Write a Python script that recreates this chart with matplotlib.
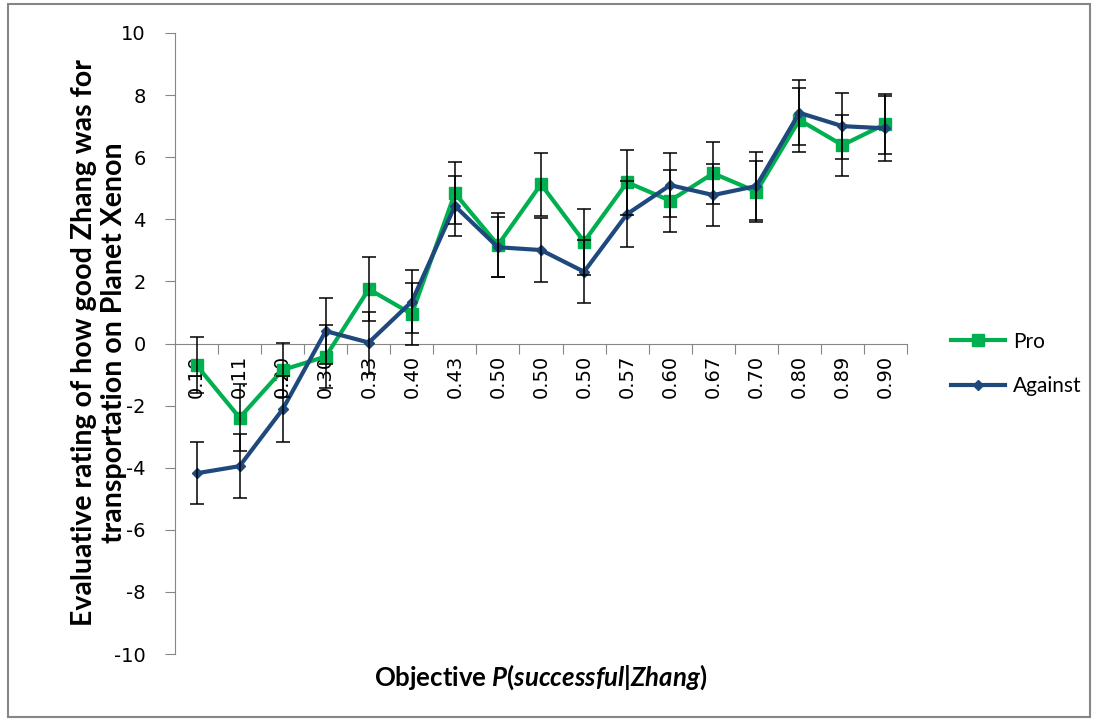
import matplotlib
matplotlib.use("Agg")
import matplotlib.pyplot as plt
from matplotlib.patches import Rectangle

# objective P(successful | Zhang) for each scenario
categories = ["0.10", "0.11", "0.20", "0.30", "0.33", "0.40", "0.43", "0.50", "0.50",
              "0.50", "0.57", "0.60", "0.67", "0.70", "0.80", "0.89", "0.90"]

pro = [-0.70, -2.39, -0.85, -0.42, 1.75, 0.95, 4.84, 3.17, 5.13,
       3.28, 5.19, 4.60, 5.48, 4.89, 7.20, 6.39, 7.07]
pro_err = [0.90, 1.08, 0.88, 1.02, 1.02, 1.00, 1.00, 1.03, 1.02,
           1.06, 1.04, 1.00, 1.00, 0.98, 1.02, 0.98, 0.96]

against = [-4.18, -3.95, -2.12, 0.40, 0.03, 1.35, 4.43, 3.10, 3.01,
           2.31, 4.17, 5.10, 4.78, 5.07, 7.43, 7.00, 6.93]
against_err = [1.00, 1.02, 1.06, 1.05, 1.00, 1.02, 0.98, 0.96, 1.03,
               1.02, 1.05, 1.02, 1.00, 1.10, 1.05, 1.06, 1.05]

GREEN = "#00B050"
BLUE = "#1F497D"
GRAY = "#868686"

plt.rcParams["axes.unicode_minus"] = False
plt.rcParams["mathtext.fontset"] = "custom"
plt.rcParams["mathtext.rm"] = "Lato:bold"
plt.rcParams["mathtext.it"] = "Lato:bold:italic"
plt.rcParams["mathtext.bf"] = "Lato:bold"

fig = plt.figure(figsize=(10.99, 7.2), dpi=100)
ax = fig.add_axes([175 / 1099, 1 - 654 / 720, (907 - 175) / 1099, (654 - 33) / 720])

x = list(range(len(categories)))

ax.plot(x, pro, color=GREEN, lw=3, marker="s", ms=9, label="Pro", zorder=3)
ax.plot(x, against, color=BLUE, lw=3, marker="D", ms=5.5, label="Against", zorder=4)
ax.errorbar(x, pro, yerr=pro_err, fmt="none", ecolor="black", elinewidth=1.1,
            capsize=5, capthick=1.1, zorder=5)
ax.errorbar(x, against, yerr=against_err, fmt="none", ecolor="black", elinewidth=1.1,
            capsize=5, capthick=1.1, zorder=5)

ax.set_xlim(-0.5, len(categories) - 0.5)
ax.set_ylim(-10, 10)
ax.set_yticks(range(-10, 11, 2))
ax.tick_params(axis="y", direction="out", length=7, color=GRAY, labelsize=14, pad=14)
for lbl in ax.get_yticklabels():
    lbl.set_family("DejaVu Sans")

# x axis sits on y = 0, ticks between categories, labels under each point
ax.spines["bottom"].set_position(("data", 0))
ax.spines["bottom"].set_color(GRAY)
ax.spines["left"].set_color(GRAY)
ax.spines["top"].set_visible(False)
ax.spines["right"].set_visible(False)
ax.set_xticks([i + 0.5 for i in x])
ax.set_xticklabels([])
ax.tick_params(axis="x", which="major", direction="out", length=7, color=GRAY)
ax.set_xticks(x, minor=True)
ax.set_xticklabels(categories, minor=True, rotation=90, fontsize=14,
                   family="DejaVu Sans")
ax.tick_params(axis="x", which="minor", length=0, pad=8)

fig.text(99 / 1099, 1 - 343 / 720,
         "Evaluative rating of how good Zhang was for\ntransportation on Planet Xenon",
         rotation=90, ha="center", va="center", fontsize=20.5, fontweight="bold",
         family="Lato", linespacing=1.2)
fig.text(541 / 1099, 1 - 677 / 720, r"Objective $P(successful|Zhang)$",
         ha="center", va="center", fontsize=18.5, fontweight="bold", family="Lato")

ax.legend(loc="center left", bbox_to_anchor=(932 / 1099, 1 - 364 / 720),
          bbox_transform=fig.transFigure, frameon=False,
          prop={"family": "Lato", "size": 15}, handlelength=2.6, labelspacing=1.2,
          handletextpad=0.4)

fig.patches.append(Rectangle((8 / 1099, 3 / 720), 1082 / 1099, 713 / 720,
                             transform=fig.transFigure, fill=False,
                             edgecolor=GRAY, lw=1.5))

fig.savefig("out.png", dpi=100)
